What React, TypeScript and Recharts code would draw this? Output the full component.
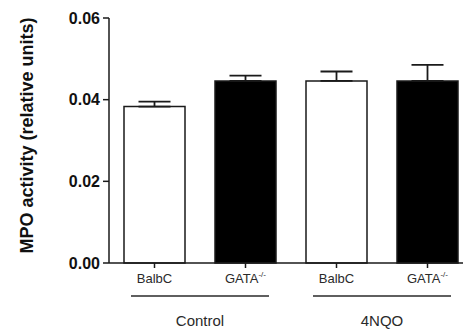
import { BarChart, Bar, XAxis, YAxis, ErrorBar, Cell } from 'recharts'

// MPO activity per strain, within treatment group
const strains = ['BalbC', 'GATA', 'BalbC', 'GATA']
const groups = ['Control', 'Control', '4NQO', '4NQO']
const mpo = [0.0383, 0.0446, 0.0446, 0.0446]
const sem = [0.0012, 0.0013, 0.0023, 0.0039]
const knockout = [false, true, false, true]
const yTicks = [0, 0.02, 0.04, 0.06]

const data = strains.map((s, i) => ({
  key: `${groups[i]}-${s}`,
  strain: s,
  group: groups[i],
  mpo: mpo[i],
  // upward-only whisker, like the original plot
  err: [0, sem[i]],
  ko: knockout[i],
}))

const font = '"Liberation Sans", Arial, sans-serif'
const ink = '#1a1a1a'

function StrainTick(props: any) {
  const { x, y, index } = props
  const d = data[index]
  if (!d) return null
  return (
    <text x={x} y={y} dy="0.71em" textAnchor="middle" fontFamily={font} fontSize={13} fill="#2a2a2a">
      {d.strain}
      {d.ko && (
        <tspan fontSize={8} dy={-6}>-/-</tspan>
      )}
    </text>
  )
}

function GroupTick(props: any) {
  const { x, y, payload } = props
  return (
    <g>
      <line x1={x - 69} x2={x + 69} y1={y + 5} y2={y + 5} stroke="#2a2a2a" strokeWidth={1.5} />
      <text x={x} y={y + 35} textAnchor="middle" fontFamily={font} fontSize={15} fill="#2a2a2a">
        {payload.value}
      </text>
    </g>
  )
}

function YTitle(props: any) {
  const { viewBox } = props
  const cx = viewBox.x + 27
  const cy = viewBox.y + viewBox.height / 2 - 5
  return (
    <text
      x={cx}
      y={cy}
      transform={`rotate(-90, ${cx}, ${cy})`}
      textAnchor="middle"
      dominantBaseline="central"
      fontFamily={font}
      fontWeight="bold"
      fontSize={18}
      fill="#111"
    >
      MPO activity (relative units)
    </text>
  )
}

export default function App() {
  return (
    <div
      style={{
        position: 'absolute',
        left: 0,
        top: 0,
        width: 463,
        height: 331,
        overflow: 'hidden',
        background: '#fff',
      }}
    >
      <BarChart
        width={480}
        height={331}
        data={data}
        margin={{ top: 18, right: 7, left: 0, bottom: 0 }}
        barSize={61}
      >
        <XAxis
          dataKey="key"
          tick={<StrainTick />}
          interval={0}
          height={28}
          tickSize={5}
          tickMargin={6}
          axisLine={{ stroke: ink, strokeWidth: 1.5 }}
          tickLine={{ stroke: ink, strokeWidth: 1.5 }}
        />
        <XAxis
          xAxisId="group"
          dataKey="group"
          allowDuplicatedCategory={false}
          axisLine={false}
          tickLine={false}
          tickSize={0}
          tickMargin={0}
          interval={0}
          height={40}
          tick={<GroupTick />}
        />
        <YAxis
          width={109}
          domain={[0, 0.06]}
          ticks={yTicks}
          tickFormatter={(v: number) => v.toFixed(2)}
          tickSize={6}
          tickMargin={3}
          axisLine={{ stroke: ink, strokeWidth: 1.5 }}
          tickLine={{ stroke: ink, strokeWidth: 1.5 }}
          tick={{ fontFamily: font, fontSize: 16, fontWeight: 'bold', fill: '#111' }}
          label={<YTitle />}
        />
        <Bar dataKey="mpo" stroke={ink} strokeWidth={1.5} isAnimationActive={false}>
          {data.map((d) => (
            <Cell key={d.key} fill={d.ko ? '#000' : '#fff'} />
          ))}
          <ErrorBar dataKey="err" width={16} stroke={ink} strokeWidth={1.8} direction="y" />
        </Bar>
      </BarChart>
    </div>
  )
}
